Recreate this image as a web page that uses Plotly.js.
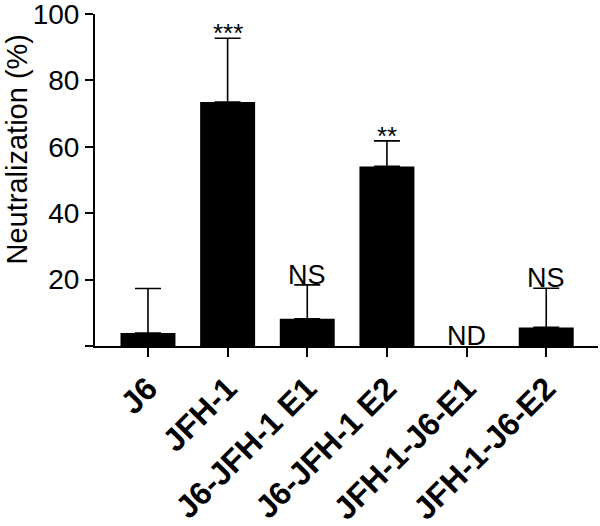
<!DOCTYPE html>
<html>
<head>
<meta charset="utf-8">
<script src="https://cdn.plot.ly/plotly-3.0.1.min.js"></script>
<style>
  html, body { margin: 0; padding: 0; background: #fff; }
  #chart { width: 600px; height: 526px; }
</style>
</head>
<body>
<div id="chart"></div>
<script>
// groups tested
var groups = ['J6', 'JFH-1', 'J6-JFH-1 E1', 'J6-JFH-1 E2', 'JFH-1-J6-E1', 'JFH-1-J6-E2'];
// mean neutralization (%), ND = not detected
var neutralization = [3.9, 73.5, 8.2, 54.1, null, 5.6];
// upper error (SD) above each mean
var errorUp = [13.4, 19.2, 10.2, 7.7, null, 11.8];
// significance marks over the bars
var marks = ['', '***', 'NS', '**', 'ND', 'NS'];

var font = 'Arial, "Liberation Sans", sans-serif';

var trace = {
  type: 'bar',
  x: groups,
  y: neutralization,
  marker: { color: '#000000', line: { width: 0 } },
  error_y: {
    type: 'data',
    symmetric: false,
    array: errorUp,
    arrayminus: groups.map(function() { return 0; }),
    color: '#000000',
    thickness: 1.6,
    width: 13
  },
  hoverinfo: 'x+y'
};

// annotations sitting on top of each error bar (or on the axis for ND)
var annotations = [];
marks.forEach(function(m, i) {
  if (!m) return;
  var top = neutralization[i] === null ? 0 : neutralization[i] + errorUp[i];
  var isStar = m.indexOf('*') === 0;
  annotations.push({
    x: groups[i],
    y: top,
    xref: 'x',
    yref: 'y',
    text: m,
    showarrow: false,
    yanchor: 'bottom',
    yshift: isStar ? -12 : -7,
    font: { family: font, size: isStar ? 26 : 27, color: '#000' }
  });
});

// y title placed by hand, it sits above the axis centre
annotations.push({
  x: 0.0,
  y: 0.592,
  xref: 'paper',
  yref: 'paper',
  xanchor: 'center',
  yanchor: 'middle',
  xshift: -78,
  text: 'Neutralization (%)',
  textangle: -90,
  showarrow: false,
  font: { family: font, size: 29, color: '#000' }
});

var layout = {
  width: 600,
  height: 526,
  margin: { l: 95, r: 2, t: 14, b: 180 },
  paper_bgcolor: '#ffffff',
  plot_bgcolor: '#ffffff',
  showlegend: false,
  bargap: 0.31,
  font: { family: font, color: '#000' },
  xaxis: {
    range: [-0.665, 5.65],
    showline: true,
    linecolor: '#000',
    linewidth: 2,
    ticks: 'outside',
    ticklen: 9,
    tickwidth: 2,
    tickcolor: '#000',
    tickangle: -45,
    ticklabeloverflow: 'allow',
    tickfont: { family: font, size: 32, color: '#000', weight: 'bold' },
    showgrid: false,
    zeroline: false,
    fixedrange: true
  },
  yaxis: {
    range: [0, 100.01],
    tickvals: [0, 20, 40, 60, 80, 100],
    ticktext: ['', '20', '40', '60', '80', '100'],
    showline: true,
    linecolor: '#000',
    linewidth: 2,
    ticks: 'outside',
    ticklen: 8,
    tickwidth: 2,
    tickcolor: '#000',
    ticklabeloverflow: 'allow',
    tickfont: { family: font, size: 28, color: '#000' },
    showgrid: false,
    zeroline: false,
    fixedrange: true
  },
  annotations: annotations
};

Plotly.newPlot('chart', [trace], layout, { displayModeBar: false, responsive: false });
</script>
</body>
</html>
